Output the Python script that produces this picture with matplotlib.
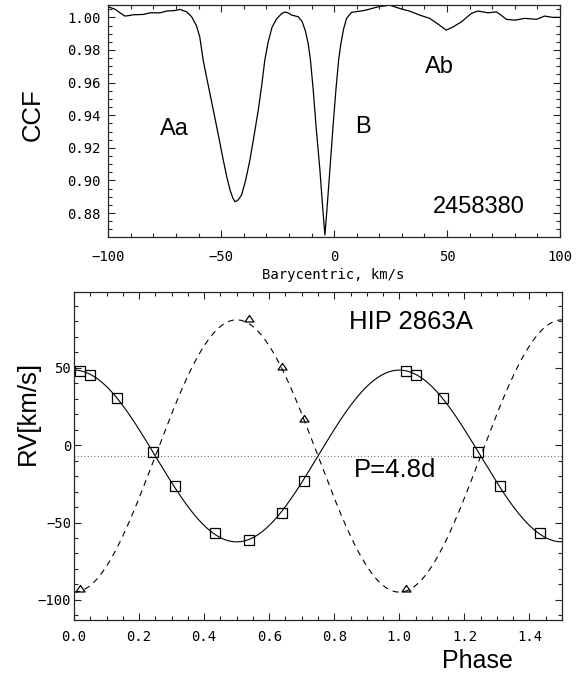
import numpy as np
import matplotlib
matplotlib.use("Agg")
import matplotlib.pyplot as plt
from matplotlib.ticker import MultipleLocator, FuncFormatter
from matplotlib.path import Path

# ---------------- CCF profile (top panel) ----------------
ccf_velocity = [
    -100.0, -97.0, -94.5, -92.6, -90.5, -88.9, -84.5, -81.5, -77.1, -74.2,
    -70.5, -68.3, -65.3, -63.1, -61.0, -59.5, -58.0, -56.0, -53.5, -51.3,
    -49.1, -47.5, -46.1, -44.8, -43.9, -42.5, -41.0, -39.2, -37.3, -35.4,
    -33.6, -32.1, -30.7, -29.2, -27.5, -25.5, -23.5, -21.8, -20.5, -18.8,
    -15.9, -14.2, -12.8, -11.5, -10.5, -9.3, -8.0, -6.3, -5.0, -4.1,
    -3.2, -1.9, -0.5, 0.8, 2.0, 3.0, 4.2, 5.5, 7.7, 12.8,
    15.8, 19.5, 24.6, 27.6, 30.5, 33.5, 37.9, 42.3, 46.0, 49.6,
    52.7, 56.4, 60.8, 63.7, 68.1, 71.9, 76.3, 80.0, 84.4, 89.6,
    93.2, 96.9, 100.0,
]
ccf_value = [
    1.0065, 1.0050, 1.0025, 1.0008, 1.0012, 1.0016, 1.0018, 1.0028, 1.0028, 1.0039,
    1.0042, 1.0049, 1.0034, 1.0004, 0.9950, 0.9880, 0.9738, 0.9600, 0.9431, 0.9280,
    0.9125, 0.9020, 0.8941, 0.8890, 0.8869, 0.8880, 0.8910, 0.9000, 0.9125, 0.9280,
    0.9431, 0.9580, 0.9738, 0.9850, 0.9940, 0.9990, 1.0020, 1.0033, 1.0028, 1.0014,
    1.0004, 0.9975, 0.9920, 0.9840, 0.9740, 0.9560, 0.9330, 0.9063, 0.8820, 0.8665,
    0.8820, 0.9063, 0.9330, 0.9560, 0.9740, 0.9840, 0.9930, 0.9994, 1.0031, 1.0041,
    1.0051, 1.0065, 1.0075, 1.0061, 1.0049, 1.0038, 1.0014, 0.9994, 0.9959, 0.9922,
    0.9942, 0.9973, 1.0025, 1.0039, 1.0028, 1.0034, 0.9988, 0.9983, 0.9994, 0.9988,
    1.0008, 1.0000, 1.0000,
]
component_labels = ["Aa", "B", "Ab"]
component_pos = [(-77.1, 0.9278), (9.2, 0.9288), (40.1, 0.9656)]
epoch_label = "2458380"

# ---------------- RV curve (bottom panel) ----------------
period_label = "P=4.8d"
star_label = "HIP 2863A"
gamma = -7.0          # systemic velocity, km/s
k_primary = 55.5      # semi-amplitude of Aa, km/s
k_secondary = 88.0    # semi-amplitude of Ab, km/s

phase_primary = [0.019, 0.050, 0.133, 0.243, 0.309, 0.433, 0.537, 0.638, 0.706]
rv_primary = [47.9, 45.3, 30.2, -4.3, -26.3, -56.7, -61.0, -43.8, -23.3]
phase_secondary = [0.019, 0.537, 0.638, 0.706]
rv_secondary = [-92.7, 81.3, 50.3, 16.6]

W, H = 579, 677
fig = plt.figure(figsize=(W / 100, H / 100), dpi=100)

sans = "Liberation Sans"
mono = "DejaVu Sans Mono"
frame_col = "0.15"


def style_axes(ax):
    for s in ax.spines.values():
        s.set_color(frame_col)
        s.set_linewidth(0.9)
    ax.tick_params(which="both", direction="in", top=True, right=True,
                   color=frame_col, width=0.8)
    ax.tick_params(which="major", length=5.2)
    ax.tick_params(which="minor", length=2.6)
    for lab in ax.get_xticklabels() + ax.get_yticklabels():
        lab.set_family(mono)
        lab.set_fontsize(10)


def minus_fmt(fmt):
    return FuncFormatter(lambda v, p: (fmt % v).replace("-", "\u2212"))


# ---- top: CCF ----
ax1 = fig.add_axes([108.3 / W, 1 - 237.3 / H, (560 - 108.3) / W, (237.3 - 5) / H])
ax1.plot(ccf_velocity, ccf_value, color="black", lw=0.9)
ax1.set_xlim(-100, 100)
ax1.set_ylim(0.8651, 1.0076)
ax1.xaxis.set_major_locator(MultipleLocator(50))
ax1.xaxis.set_minor_locator(MultipleLocator(10))
ax1.yaxis.set_major_locator(MultipleLocator(0.02))
ax1.yaxis.set_minor_locator(MultipleLocator(0.005))
ax1.xaxis.set_major_formatter(minus_fmt("%d"))
ax1.yaxis.set_major_formatter(minus_fmt("%.2f"))
ax1.tick_params(axis="x", which="major", pad=9)
ax1.tick_params(axis="y", which="major", pad=5.5)
style_axes(ax1)
for lab, (x, y) in zip(component_labels, component_pos):
    ax1.text(x, y, lab, family=sans, fontsize=17, ha="left", va="baseline")
ax1.text(43.5, 0.8798, epoch_label, family=sans, fontsize=17, ha="left", va="baseline")

fig.text(32.5 / W, 1 - 115 / H, "CCF", family=sans, fontsize=18.5,
         rotation=90, ha="center", va="center")
fig.text(333.5 / W, 1 - 275 / H, "Barycentric, km/s", family=mono, fontsize=10,
         ha="center", va="center")

# ---- bottom: RV curve ----
ax2 = fig.add_axes([74 / W, 1 - 620 / H, (562 - 74) / W, (620 - 292) / H])
grid = np.linspace(0, 1.5, 600)
ax2.plot(grid, gamma + k_primary * np.cos(2 * np.pi * grid), color="black", lw=0.8)
ax2.plot(grid, gamma - k_secondary * np.cos(2 * np.pi * grid), color="black", lw=0.8,
         linestyle=(0, (5.4, 4.5)))
ax2.axhline(gamma, color="0.3", lw=0.8, linestyle=(0, (0.75, 2.25)))

ph_p = np.array(phase_primary)
ph_s = np.array(phase_secondary)
rv_p = np.array(rv_primary)
rv_s = np.array(rv_secondary)
# repeat points one cycle later where they fall inside the plotted phase range
ph_p_all = np.concatenate([ph_p, ph_p[ph_p + 1 <= 1.5] + 1])
rv_p_all = np.concatenate([rv_p, rv_p[ph_p + 1 <= 1.5]])
ph_s_all = np.concatenate([ph_s, ph_s[ph_s + 1 <= 1.5] + 1])
rv_s_all = np.concatenate([rv_s, rv_s[ph_s + 1 <= 1.5]])

tri = Path([(-1, -0.55), (1, -0.55), (0, 0.9), (-1, -0.55)],
           [Path.MOVETO, Path.LINETO, Path.LINETO, Path.CLOSEPOLY])
ax2.plot(ph_p_all, rv_p_all, linestyle="none", marker="s", ms=7, mfc="none",
         mec="black", mew=0.9)
ax2.plot(ph_s_all, rv_s_all, linestyle="none", marker=tri, ms=6.5, mfc="none",
         mec="black", mew=0.9)

ax2.set_xlim(0, 1.5)
ax2.set_ylim(-113, 99)
ax2.xaxis.set_major_locator(MultipleLocator(0.2))
ax2.xaxis.set_minor_locator(MultipleLocator(0.05))
ax2.yaxis.set_major_locator(MultipleLocator(50))
ax2.yaxis.set_minor_locator(MultipleLocator(10))
ax2.xaxis.set_major_formatter(minus_fmt("%.1f"))
ax2.yaxis.set_major_formatter(minus_fmt("%d"))
ax2.tick_params(axis="x", which="major", pad=7)
ax2.tick_params(axis="y", which="major", pad=2)
style_axes(ax2)
ax2.text(0.844, 74.8, star_label, family=sans, fontsize=18.5, ha="left", va="baseline")
ax2.text(0.859, -20.5, period_label, family=sans, fontsize=18.5, ha="left", va="baseline")

fig.text(27.5 / W, 1 - 413 / H, "RV[km/s]", family=sans, fontsize=18.5,
         rotation=90, ha="center", va="center")
fig.text(477.5 / W, 1 - 668.3 / H, "Phase", family=sans, fontsize=18,
         ha="center", va="baseline")

fig.savefig("out.png", dpi=100)
